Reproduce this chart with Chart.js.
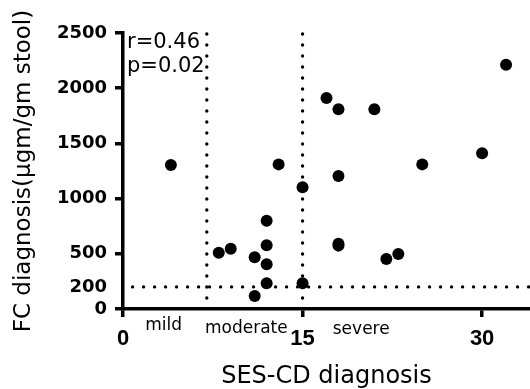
<!DOCTYPE html>
<html>
<head>
<meta charset="utf-8">
<script src="https://cdn.jsdelivr.net/npm/chart.js@4"></script>
<style>
html,body{margin:0;padding:0;background:#fff;}
canvas{display:block;}
</style>
</head>
<body>
<canvas id="c" width="530" height="389"></canvas>
<script>
// ---- data ----
const sesCD = [4, 8, 9, 11, 11, 12, 12, 12, 12, 13, 15, 15, 17, 18, 18, 18, 18, 21, 22, 23, 25, 30, 32];
const fcDiag = [1305, 510, 545, 468, 118, 800, 577, 405, 233, 1310, 1102, 233, 1912, 1810, 1205, 590, 574, 1810, 453, 498, 1310, 1410, 2212];
const xTicks = [0, 15, 30];
const yTicks = [0, 200, 500, 1000, 1500, 2000, 2500];
const cutoffX = [7, 15];          // severity cut-offs (vertical dotted)
const cutoffY = 200;              // FC cut-off (horizontal dotted)
const severityLabels = ['mild', 'moderate', 'severe'];
const severityAt = [3.4, 10.3, 19.9];
const statsText = ['r=0.46', 'p=0.02'];
const xTitle = 'SES-CD diagnosis';
const yTitle = 'FC diagnosis(\u03bcgm/gm stool)';

const points = sesCD.map((x, i) => ({x: x, y: fcDiag[i]}));

const dotted = {
  type: 'line', showLine: true, pointRadius: 0, borderColor: '#000',
  borderWidth: 3.4, borderDash: [0, 11], borderCapStyle: 'round',
  fill: false, clip: false, order: 2
};
const lineSets = cutoffX.map(v => Object.assign({}, dotted, {
  data: [{x: v, y: 100}, {x: v, y: 2515}]
}));
lineSets.push(Object.assign({}, dotted, {
  data: [{x: 0.8, y: cutoffY}, {x: 34, y: cutoffY}]
}));

const extraText = {
  id: 'extraText',
  afterDatasetsDraw(chart) {
    const ctx = chart.ctx;
    const xs = chart.scales.x;
    const ca = chart.chartArea;
    ctx.save();
    ctx.fillStyle = '#000';
    ctx.font = '21px "DejaVu Sans"';
    ctx.textAlign = 'left';
    ctx.textBaseline = 'alphabetic';
    ctx.fillText(statsText[0], ca.left + 4, 48);
    ctx.fillText(statsText[1], ca.left + 4, 72);
    ctx.font = '17px "DejaVu Sans"';
    ctx.textAlign = 'center';
    const base = [330, 333, 334];
    severityLabels.forEach((t, i) => {
      ctx.fillText(t, xs.getPixelForValue(severityAt[i]), base[i]);
    });
    ctx.restore();
  }
};

new Chart(document.getElementById('c'), {
  type: 'scatter',
  data: {
    datasets: [{
      data: points, backgroundColor: '#000', borderWidth: 0,
      pointRadius: 6, pointHoverRadius: 6, order: 0
    }].concat(lineSets)
  },
  options: {
    responsive: false, animation: false,
    layout: {autoPadding: false, padding: {top: 33, right: 0, left: 0, bottom: 0}},
    plugins: {legend: {display: false}, tooltip: {enabled: false}},
    scales: {
      x: {
        type: 'linear', min: 0, max: 34,
        afterBuildTicks: s => { s.ticks = xTicks.map(v => ({value: v})); },
        afterFit: s => { s.height = 80; s.paddingLeft = 0; s.paddingRight = 0; },
        grid: {drawOnChartArea: false, drawTicks: true, tickLength: 8, lineWidth: 3.5, tickColor: '#000'},
        border: {display: true, color: '#000', width: 3.5},
        ticks: {color: '#000', padding: 9, maxRotation: 0, callback: v => String(v),
          font: {family: '"Liberation Sans", Arial, sans-serif', size: 22, weight: 'bold'}},
        title: {display: true, text: xTitle, color: '#000',
          font: {family: '"DejaVu Sans"', size: 24, lineHeight: 1}, padding: {top: 0, bottom: 0}}
      },
      y: {
        type: 'linear', min: 0, max: 2500,
        afterBuildTicks: s => { s.ticks = yTicks.map(v => ({value: v})); },
        afterFit: s => { s.width = 123; s.paddingTop = 0; s.paddingBottom = 0; },
        grid: {drawOnChartArea: false, drawTicks: true, tickLength: 8, lineWidth: 3.5,
          tickColor: c => (c.tick && c.tick.value === 200) ? 'rgba(0,0,0,0)' : '#000'},
        border: {display: true, color: '#000', width: 3.5},
        ticks: {color: '#000', padding: 8, callback: v => String(v),
          font: {family: '"DejaVu Sans"', size: 18, weight: 'bold'}},
        title: {display: true, text: yTitle, color: '#000',
          font: {family: '"DejaVu Sans"', size: 23, lineHeight: 1.2}, padding: {top: 10, bottom: 0}}
      }
    }
  },
  plugins: [extraText]
});
</script>
</body>
</html>
